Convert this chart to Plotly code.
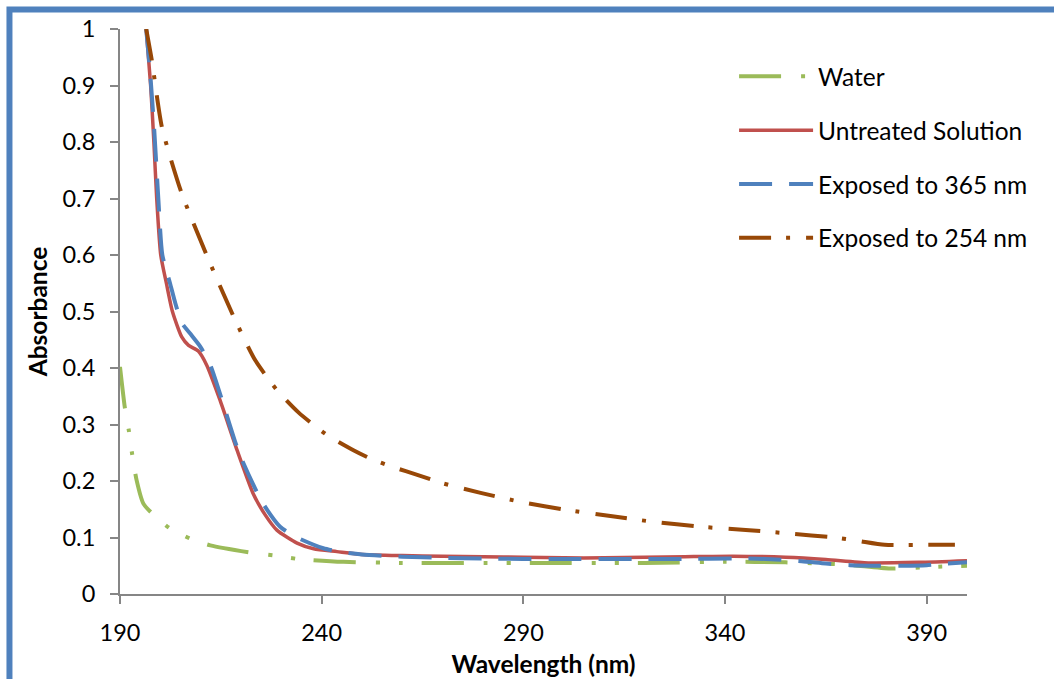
import plotly.graph_objects as go

# ---------------- data ----------------
water_x = [190, 191.2, 192.2, 193, 194.1, 195.8, 197.9, 202.2, 207.4, 212.4, 222.7, 228.4,
           234.1, 245.4, 260, 280, 300, 320, 340, 355, 370, 381, 392, 400]
water_y = [0.402, 0.33, 0.289, 0.248, 0.202, 0.16, 0.143, 0.117, 0.098, 0.086, 0.073, 0.068,
           0.062, 0.057, 0.055, 0.055, 0.055, 0.055, 0.057, 0.056, 0.052, 0.045, 0.048, 0.05]

untreated_x = [196.5, 197.6, 198.4, 199.1, 200.1, 201.5, 203, 205.3, 207, 209.4, 211.5, 214.8,
               219, 223, 226, 228.9, 233.9, 238, 243.8, 250, 260, 270, 280, 290, 300, 310,
               320, 330, 342, 355, 365, 375.5, 388, 400]
untreated_y = [1.0, 0.9, 0.8, 0.7, 0.6, 0.55, 0.5, 0.455, 0.44, 0.43, 0.405, 0.343,
               0.255, 0.178, 0.14, 0.113, 0.09, 0.08, 0.075, 0.07, 0.068, 0.067, 0.066, 0.065, 0.064, 0.064,
               0.065, 0.066, 0.067, 0.065, 0.061, 0.055, 0.056, 0.059]

exp365_x = [196.5, 197.5, 198.5, 199.5, 200.5, 202.4, 203.7, 205.3, 207.5, 209.9, 212.4, 215,
            219.5, 225.2, 229.7, 233.9, 240.4, 245, 250, 260, 270, 280, 290, 300, 310, 320,
            330, 342, 350, 359, 365, 371, 378, 384, 390, 395, 400]
exp365_y = [1.0, 0.92, 0.82, 0.7, 0.6, 0.55, 0.515, 0.48, 0.46, 0.438, 0.405, 0.35,
            0.25, 0.163, 0.119, 0.1, 0.081, 0.074, 0.07, 0.066, 0.064, 0.063, 0.062, 0.062, 0.062, 0.062,
            0.062, 0.063, 0.062, 0.058, 0.054, 0.051, 0.05, 0.05, 0.051, 0.054, 0.056]

exp254_x = [196.5, 197.9, 200.4, 205.2, 211.4, 218.1, 223.5, 228.9, 234.3, 241.4, 248, 252,
            258, 263.7, 270, 279.4, 290, 300.5, 312.5, 322, 334, 346, 356, 367, 373, 379.6, 390, 397]
exp254_y = [1.0, 0.944, 0.826, 0.711, 0.601, 0.492, 0.414, 0.361, 0.321, 0.281, 0.254, 0.24,
            0.224, 0.211, 0.196, 0.179, 0.162, 0.149, 0.137, 0.128, 0.119, 0.113, 0.107, 0.1, 0.094, 0.087, 0.087, 0.087]

series_names = ["Water", "Untreated Solution", "Exposed to 365 nm", "Exposed to 254 nm"]
x_ticks = [190, 240, 290, 340, 390]
y_ticks = [0, 0.1, 0.2, 0.3, 0.4, 0.5, 0.6, 0.7, 0.8, 0.9, 1]

# ---------------- styles ----------------
FONT = "Lato, Carlito, Calibri, 'Open Sans', sans-serif"
styles = [
    dict(color="#9BBB59", width=4, dash="42px,20px,4px,19px,4px,19px"),
    dict(color="#C0504D", width=3.5, dash="solid"),
    dict(color="#4F81BD", width=4, dash="33px,17px"),
    dict(color="#984807", width=4, dash="32px,15px,4px,16px"),
]
data = [(water_x, water_y), (untreated_x, untreated_y), (exp365_x, exp365_y), (exp254_x, exp254_y)]

fig = go.Figure()
for i, ((xs, ys), name, st) in enumerate(zip(data, series_names, styles)):
    fig.add_trace(go.Scatter(
        x=xs, y=ys, name=name, mode="lines", legendgroup=f"g{i}",
        line=dict(color=st["color"], width=st["width"], dash=st["dash"],
                  shape="spline", smoothing=0.6),
    ))

axis_common = dict(
    showgrid=False, zeroline=False, showline=True, linecolor="#868686", linewidth=2,
    ticks="outside", ticklen=8, tickwidth=2, tickcolor="#868686", automargin=False,
    tickfont=dict(family=FONT, size=23.5, color="black"),
)

fig.update_layout(
    width=1054, height=679,
    margin=dict(l=120, r=87, t=29, b=85, autoexpand=False),
    paper_bgcolor="white", plot_bgcolor="white",
    font=dict(family=FONT, color="black"),
    xaxis=dict(range=[190, 400], tickvals=x_ticks, ticktext=[str(v) for v in x_ticks],
               ticklabelstandoff=9,
               title=dict(text="<b>Wavelength (nm)</b>", font=dict(family=FONT, size=24.5), standoff=11),
               **axis_common),
    yaxis=dict(range=[0, 1], tickvals=y_ticks, ticktext=[f"{v:g}" for v in y_ticks],
               ticklabelstandoff=10,
               title=dict(text="<b>Absorbance</b>", font=dict(family=FONT, size=24.5), standoff=8),
               **axis_common),
    legend=dict(x=0.725, y=0.956, xanchor="left", yanchor="top", traceorder="grouped",
                tracegroupgap=19, itemwidth=74, bgcolor="rgba(0,0,0,0)",
                font=dict(family=FONT, size=24.5, color="black")),
    showlegend=True,
    shapes=[dict(type="rect", xref="paper", yref="paper",
                 x0=-0.1305, x1=1.3, y0=-0.3, y1=1.0345,
                 line=dict(color="#4F81BD", width=6), fillcolor="rgba(0,0,0,0)", layer="above")],
)

fig.write_html("out.html", config={"displayModeBar": False},
               post_script="document.body.style.margin='0';document.body.style.overflow='hidden';")
